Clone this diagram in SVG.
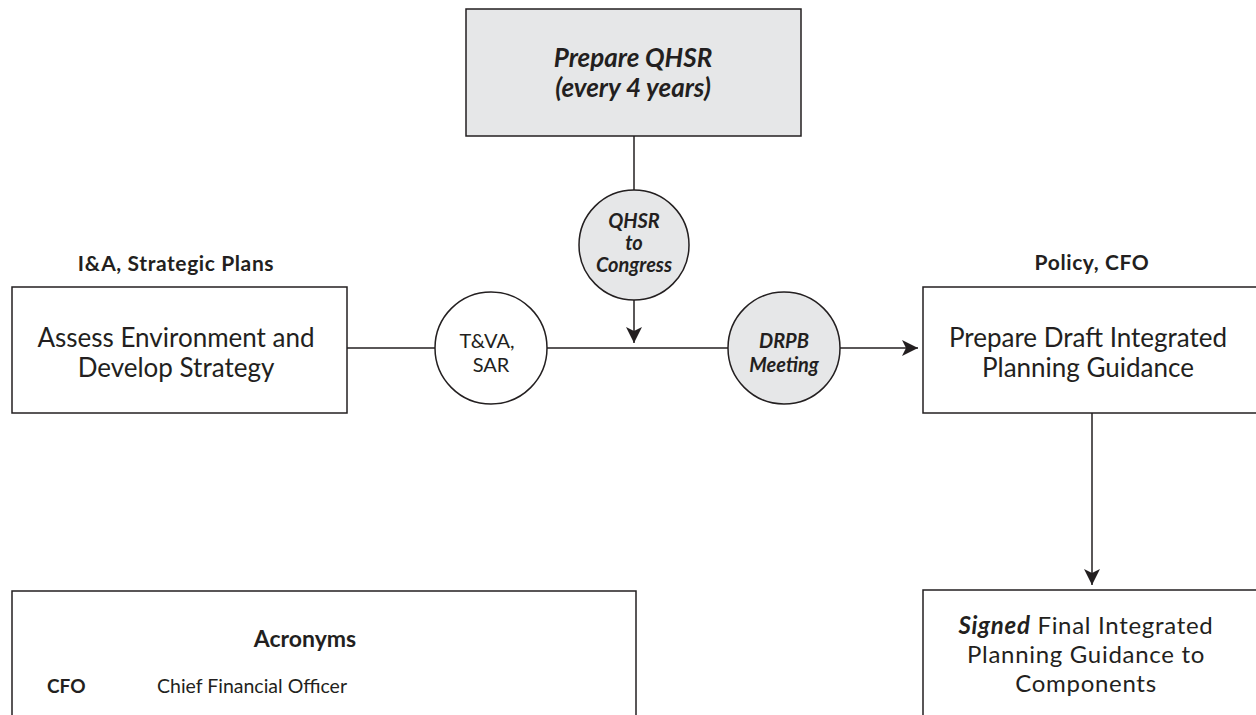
<svg xmlns="http://www.w3.org/2000/svg" width="1256" height="715" viewBox="0 0 1256 715">
<style>
.box{fill:#ffffff;stroke:#231f20;stroke-width:1.5}
.gbox{fill:#e6e7e8;stroke:#231f20;stroke-width:1.5}
.ln{stroke:#231f20;stroke-width:1.5;fill:none}
text{font-family:Lato,"Open Sans","Liberation Sans",sans-serif;fill:#231f20;text-anchor:middle}
.t{font-size:26px}
.f{font-size:24px;letter-spacing:0.7px}
.h{font-size:21px;font-weight:bold;letter-spacing:0.6px}
.bi{font-weight:bold;font-style:italic}
.c{font-size:20px}
</style>
<defs>
<marker id="arr" markerUnits="userSpaceOnUse" markerWidth="18" markerHeight="16" refX="16" refY="8" orient="auto">
<path d="M0,0 L16,8 L0,16 L4,8 z" fill="#231f20"/>
</marker>
</defs>
<g id="connectors">
<line class="ln" x1="634" y1="136" x2="634" y2="191"/>
<line class="ln" x1="634" y1="300" x2="634" y2="343" marker-end="url(#arr)"/>
<line class="ln" x1="347" y1="348" x2="435" y2="348"/>
<line class="ln" x1="547" y1="348" x2="728" y2="348"/>
<line class="ln" x1="840" y1="348" x2="918" y2="348" marker-end="url(#arr)"/>
<line class="ln" x1="1092" y1="413" x2="1092" y2="585" marker-end="url(#arr)"/>
</g>
<g id="prepare-qhsr">
<rect class="gbox" x="466" y="9" width="335" height="127"/>
<text class="t bi" x="633" y="67">Prepare QHSR</text>
<text class="t bi" x="633" y="97">(every 4 years)</text>
</g>
<g id="qhsr-to-congress">
<circle class="gbox" cx="634" cy="245" r="55"/>
<text class="c bi" x="634" y="228">QHSR</text>
<text class="c bi" x="634" y="250">to</text>
<text class="c bi" x="634" y="272">Congress</text>
</g>
<g id="assess">
<text class="h" x="176" y="271">I&amp;A, Strategic Plans</text>
<rect class="box" x="12" y="287" width="335" height="126"/>
<text class="t" x="176" y="347">Assess Environment and</text>
<text class="t" x="176" y="377">Develop Strategy</text>
</g>
<g id="tva-sar">
<circle class="box" cx="491" cy="348" r="56"/>
<text class="c" x="487" y="348">T&amp;VA,</text>
<text class="c" x="491" y="372">SAR</text>
</g>
<g id="drpb">
<circle class="gbox" cx="784" cy="348" r="56"/>
<text class="c bi" x="784" y="348">DRPB</text>
<text class="c bi" x="784" y="372">Meeting</text>
</g>
<g id="draft-guidance">
<text class="h" x="1092" y="270">Policy, CFO</text>
<rect class="box" x="923" y="287" width="340" height="126"/>
<text class="t" x="1088" y="347">Prepare Draft Integrated</text>
<text class="t" x="1088" y="377">Planning Guidance</text>
</g>
<g id="final-guidance">
<rect class="box" x="923" y="590" width="340" height="140"/>
<text class="f" x="1086" y="634"><tspan class="bi">Signed</tspan> Final Integrated</text>
<text class="f" x="1086" y="663">Planning Guidance to</text>
<text class="f" x="1086" y="692">Components</text>
</g>
<g id="acronyms">
<rect class="box" x="12" y="591" width="624" height="140"/>
<text x="305" y="647" style="font-size:23px;font-weight:bold">Acronyms</text>
<text x="47" y="693" style="font-size:19px;font-weight:bold;text-anchor:start">CFO</text>
<text x="157" y="693" style="font-size:19.5px;text-anchor:start">Chief Financial Officer</text>
</g>
</svg>
